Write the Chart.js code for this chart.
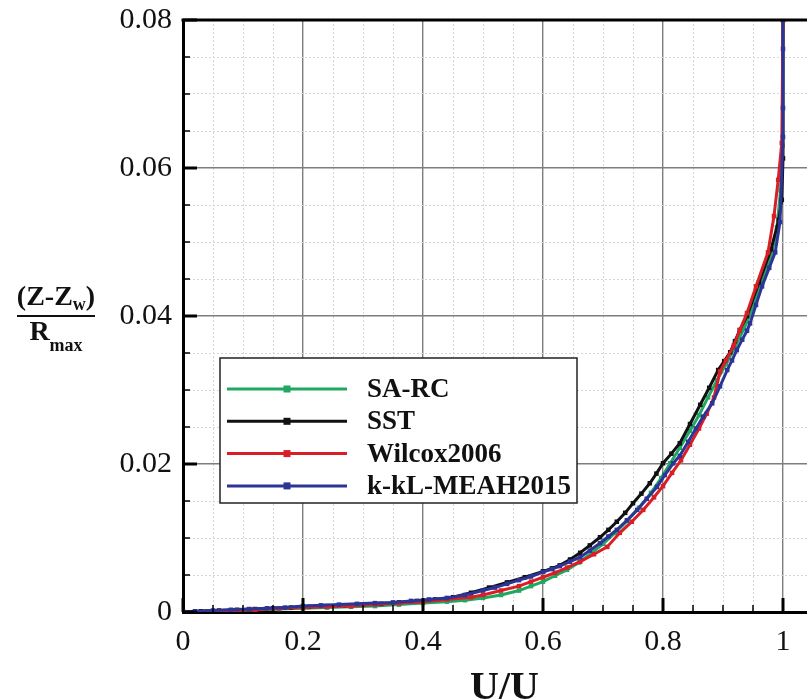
<!DOCTYPE html>
<html><head><meta charset="utf-8">
<script src="https://cdn.jsdelivr.net/npm/chart.js@4.4.1/dist/chart.umd.min.js"></script>
<style>html,body{margin:0;padding:0;background:#fff;overflow:hidden}canvas{display:block}</style>
</head><body>
<canvas id="c" width="807" height="700"></canvas>
<script>
const seriesNames = ['SA-RC', 'SST', 'Wilcox2006', 'k-kL-MEAH2015'];
const seriesColors = ['#1fa862', '#111111', '#d91e26', '#2c3596'];

const sarcX = [0,0.04,0.08,0.12,0.16,0.2,0.24,0.28,0.32,0.36,0.4,0.44,0.47,0.5,0.53,0.56,0.58,0.6,0.62,0.64,0.66,0.68,0.7,0.72,0.74,0.76,0.78,0.797,0.812,0.828,0.845,0.86,0.875,0.89,0.905,0.92,0.935,0.95,0.965,0.98,0.99,0.996,0.999,1.0];
const sarcY = [0,0.0001,0.0002,0.0003,0.0004,0.0005,0.0006,0.0007,0.0008,0.0010,0.0012,0.0014,0.0016,0.0019,0.0023,0.0029,0.0035,0.0041,0.0049,0.0057,0.0067,0.0079,0.0092,0.0107,0.0123,0.0141,0.0161,0.0181,0.0201,0.0222,0.0245,0.0266,0.0290,0.0313,0.0335,0.0358,0.0383,0.0412,0.0445,0.0480,0.0520,0.0570,0.0630,0.0800];

const sstX = [0,0.03,0.06,0.09,0.12,0.15,0.18,0.21,0.24,0.27,0.3,0.33,0.36,0.39,0.42,0.45,0.48,0.51,0.54,0.57,0.6,0.615,0.628,0.645,0.662,0.678,0.695,0.709,0.723,0.737,0.75,0.764,0.778,0.789,0.8,0.814,0.828,0.845,0.862,0.877,0.892,0.902,0.912,0.92,0.928,0.94,0.96,0.98,0.993,0.998,1.0,1.0];
const sstY = [0,0.0001,0.0002,0.0003,0.0004,0.0005,0.0006,0.0007,0.0008,0.0009,0.0010,0.0011,0.0013,0.0015,0.0017,0.0020,0.0026,0.0033,0.0040,0.0047,0.0055,0.0059,0.0063,0.0071,0.0080,0.0090,0.0101,0.0111,0.0122,0.0134,0.0147,0.0160,0.0174,0.0187,0.0201,0.0214,0.0228,0.0254,0.0280,0.0303,0.0327,0.0339,0.0351,0.0366,0.0381,0.0400,0.0445,0.0490,0.0530,0.0557,0.0613,0.0800];

const wilcoxX = [0,0.04,0.08,0.12,0.16,0.2,0.24,0.28,0.32,0.36,0.4,0.44,0.48,0.5,0.53,0.56,0.58,0.6,0.62,0.64,0.662,0.685,0.707,0.728,0.748,0.767,0.785,0.8,0.815,0.83,0.845,0.86,0.873,0.885,0.895,0.905,0.918,0.928,0.94,0.955,0.975,0.985,0.992,0.998,1.0];
const wilcoxY = [0,0.0001,0.0002,0.0003,0.0005,0.0006,0.0007,0.0008,0.0010,0.0012,0.0014,0.0017,0.0020,0.0023,0.0029,0.0035,0.0041,0.0047,0.0053,0.0060,0.0068,0.0078,0.0088,0.0107,0.0122,0.0138,0.0155,0.0170,0.0188,0.0205,0.0226,0.0248,0.0268,0.0290,0.0325,0.0340,0.0360,0.0381,0.0404,0.0440,0.0486,0.0535,0.0584,0.0634,0.0800];

const kklX = [0,0.02,0.05,0.08,0.11,0.14,0.17,0.2,0.23,0.26,0.29,0.32,0.35,0.38,0.41,0.44,0.47,0.5,0.52,0.54,0.56,0.58,0.6,0.615,0.628,0.645,0.662,0.678,0.695,0.709,0.723,0.74,0.757,0.773,0.79,0.803,0.817,0.828,0.842,0.855,0.867,0.882,0.895,0.907,0.915,0.923,0.932,0.94,0.945,0.955,0.965,0.977,0.987,0.995,1.0,1.0,1.0,1.0];
const kklY = [0,0.0001,0.0002,0.0003,0.0004,0.0005,0.0006,0.0008,0.0009,0.0010,0.0011,0.0012,0.0013,0.0015,0.0017,0.0019,0.0023,0.0029,0.0033,0.0038,0.0043,0.0048,0.0054,0.0058,0.0062,0.0068,0.0074,0.0083,0.0093,0.0102,0.0111,0.0124,0.0138,0.0153,0.0169,0.0185,0.0201,0.0211,0.0230,0.0248,0.0264,0.0282,0.0305,0.0327,0.0340,0.0354,0.0368,0.0380,0.0390,0.0415,0.0440,0.0465,0.0486,0.0527,0.0642,0.0681,0.0761,0.0850];

const xMajorTicks = [0, 0.2, 0.4, 0.6, 0.8, 1];
const xTickLabels = ['0', '0.2', '0.4', '0.6', '0.8', '1'];
const xMinorTicks = [0.05,0.1,0.15,0.25,0.3,0.35,0.45,0.5,0.55,0.65,0.7,0.75,0.85,0.9,0.95];
const yMajorTicks = [0, 0.02, 0.04, 0.06, 0.08];
const yTickLabels = ['0', '0.02', '0.04', '0.06', '0.08'];
const yMinorTicks = [0.005,0.01,0.015,0.025,0.03,0.035,0.045,0.05,0.055,0.065,0.07,0.075];

const FONT = '"Liberation Serif", "Times New Roman", serif';
const near = (a, b) => Math.abs(a - b) < 1e-9;
const majorIndex = (v, arr) => arr.findIndex(m => near(m, v));
const toPts = (xs, ys) => xs.map((x, i) => ({x: x, y: ys[i]}));

const seriesData = [toPts(sarcX, sarcY), toPts(sstX, sstY), toPts(wilcoxX, wilcoxY), toPts(kklX, kklY)];
const drawOrder = [4, 3, 2, 1];

const datasets = seriesNames.map((name, i) => ({
  label: name,
  data: seriesData[i],
  showLine: true,
  borderColor: seriesColors[i],
  backgroundColor: seriesColors[i],
  borderWidth: 3,
  pointStyle: 'rect',
  pointRadius: 3.2,
  pointBorderWidth: 0,
  pointBackgroundColor: seriesColors[i],
  order: drawOrder[i]
}));

function gridColor(ctx, majors) {
  if (!ctx.tick) return '#888';
  return majorIndex(ctx.tick.value, majors) >= 0 ? '#7d7d7d' : '#d6d6d6';
}
function gridWidth(ctx, majors) {
  if (!ctx.tick) return 1;
  return majorIndex(ctx.tick.value, majors) >= 0 ? 1.4 : 1;
}
function gridDash(ctx, majors) {
  if (!ctx.tick) return [];
  return majorIndex(ctx.tick.value, majors) >= 0 ? [] : [2, 2];
}

const framePlugin = {
  id: 'frame',
  afterDatasetsDraw(chart) {
    const {ctx, chartArea: a, scales} = chart;
    const xs = scales.x, ys = scales.y;
    ctx.save();
    ctx.strokeStyle = '#000';
    ctx.lineCap = 'butt';
    ctx.lineWidth = 3;
    ctx.beginPath(); ctx.moveTo(a.left - 1.5, a.top); ctx.lineTo(chart.width, a.top); ctx.stroke();
    const tick = (x1, y1, x2, y2, w) => { ctx.lineWidth = w; ctx.beginPath(); ctx.moveTo(x1, y1); ctx.lineTo(x2, y2); ctx.stroke(); };
    xMajorTicks.forEach(v => { const p = xs.getPixelForValue(v); tick(p, a.bottom, p, a.bottom - 14, 3); });
    xMinorTicks.forEach(v => { const p = xs.getPixelForValue(v); tick(p, a.bottom, p, a.bottom - 7, 1.5); });
    yMajorTicks.forEach(v => { const p = ys.getPixelForValue(v); tick(a.left, p, a.left + 14, p, 3); });
    yMinorTicks.forEach(v => { const p = ys.getPixelForValue(v); tick(a.left, p, a.left + 7, p, 1.5); });
    ctx.restore();
  },
  afterDraw(chart) {
    const {ctx, chartArea: a} = chart;
    ctx.save();
    const bx = a.left + 37, by = a.top + 338, bw = 357, bh = 145;
    ctx.fillStyle = '#fff';
    ctx.fillRect(bx, by, bw, bh);
    ctx.strokeStyle = '#222';
    ctx.lineWidth = 1.5;
    ctx.strokeRect(bx, by, bw, bh);
    ctx.font = 'bold 27px ' + FONT;
    ctx.textBaseline = 'middle';
    ctx.textAlign = 'left';
    seriesNames.forEach((name, i) => {
      const yy = by + 31 + i * 32.3;
      ctx.strokeStyle = seriesColors[i];
      ctx.lineWidth = 3;
      ctx.beginPath(); ctx.moveTo(bx + 7, yy); ctx.lineTo(bx + 127, yy); ctx.stroke();
      ctx.fillStyle = seriesColors[i];
      ctx.fillRect(bx + 67 - 3.5, yy - 3.5, 7, 7);
      ctx.fillStyle = '#111';
      ctx.fillText(name, bx + 147, yy + 1);
    });
    ctx.fillStyle = '#111';
    ctx.textBaseline = 'alphabetic';
    const big = 'bold 28px ' + FONT, small = 'bold 18px ' + FONT;
    const cx = 56;
    ctx.font = big; const w1 = ctx.measureText('(Z-Z').width; const w3 = ctx.measureText(')').width;
    ctx.font = small; const w2 = ctx.measureText('w').width;
    let sx = cx - (w1 + w2 + w3) / 2;
    ctx.font = big; ctx.fillText('(Z-Z', sx, 305);
    ctx.font = small; ctx.fillText('w', sx + w1, 310);
    ctx.font = big; ctx.fillText(')', sx + w1 + w2, 305);
    ctx.lineWidth = 2.2; ctx.strokeStyle = '#111';
    ctx.beginPath(); ctx.moveTo(17, 316); ctx.lineTo(95, 316); ctx.stroke();
    ctx.font = big; const r1 = ctx.measureText('R').width;
    ctx.font = small; const r2 = ctx.measureText('max').width;
    sx = cx - (r1 + r2) / 2;
    ctx.font = big; ctx.fillText('R', sx, 340);
    ctx.font = small; ctx.fillText('max', sx + r1, 351);
    ctx.font = 'bold 40px ' + FONT;
    const u1 = ctx.measureText('U/U').width;
    ctx.fillText('U/U', 470, 699);
    ctx.font = 'bold 24px ' + FONT;
    ctx.fillText('e', 470 + u1, 711);
    ctx.restore();
  }
};

new Chart(document.getElementById('c'), {
  type: 'scatter',
  data: {datasets: datasets},
  plugins: [framePlugin],
  options: {
    responsive: false,
    devicePixelRatio: 1,
    animation: false,
    layout: {autoPadding: false, padding: {top: 20, left: 0, right: 0, bottom: 0}},
    plugins: {legend: {display: false}, tooltip: {enabled: false}},
    scales: {
      x: {
        type: 'linear', min: 0, max: 1.04,
        afterBuildTicks: (s) => { s.ticks = xMajorTicks.concat(xMinorTicks).sort((a, b) => a - b).map(v => ({value: v})); },
        afterFit: (s) => { s.height = 88; s.paddingLeft = 0; s.paddingRight = 0; },
        ticks: {
          autoSkip: false, maxRotation: 0, padding: 12, color: '#111',
          font: {family: FONT, size: 30},
          callback: (v) => { const k = majorIndex(v, xMajorTicks); return k >= 0 ? xTickLabels[k] : ''; }
        },
        grid: {
          drawTicks: false,
          color: (c) => gridColor(c, xMajorTicks),
          lineWidth: (c) => gridWidth(c, xMajorTicks)
        },
        border: {display: true, color: '#000', width: 3, dash: (c) => gridDash(c, xMajorTicks)}
      },
      y: {
        type: 'linear', min: 0, max: 0.08,
        afterBuildTicks: (s) => { s.ticks = yMajorTicks.concat(yMinorTicks).sort((a, b) => a - b).map(v => ({value: v})); },
        afterFit: (s) => { s.width = 183; s.paddingTop = 0; s.paddingBottom = 0; },
        ticks: {
          autoSkip: false, padding: 11, color: '#111',
          font: {family: FONT, size: 30},
          callback: (v) => { const k = majorIndex(v, yMajorTicks); return k >= 0 ? yTickLabels[k] : ''; }
        },
        grid: {
          drawTicks: false,
          color: (c) => gridColor(c, yMajorTicks),
          lineWidth: (c) => gridWidth(c, yMajorTicks)
        },
        border: {display: true, color: '#000', width: 3, dash: (c) => gridDash(c, yMajorTicks)}
      }
    }
  }
});
</script>
</body></html>
